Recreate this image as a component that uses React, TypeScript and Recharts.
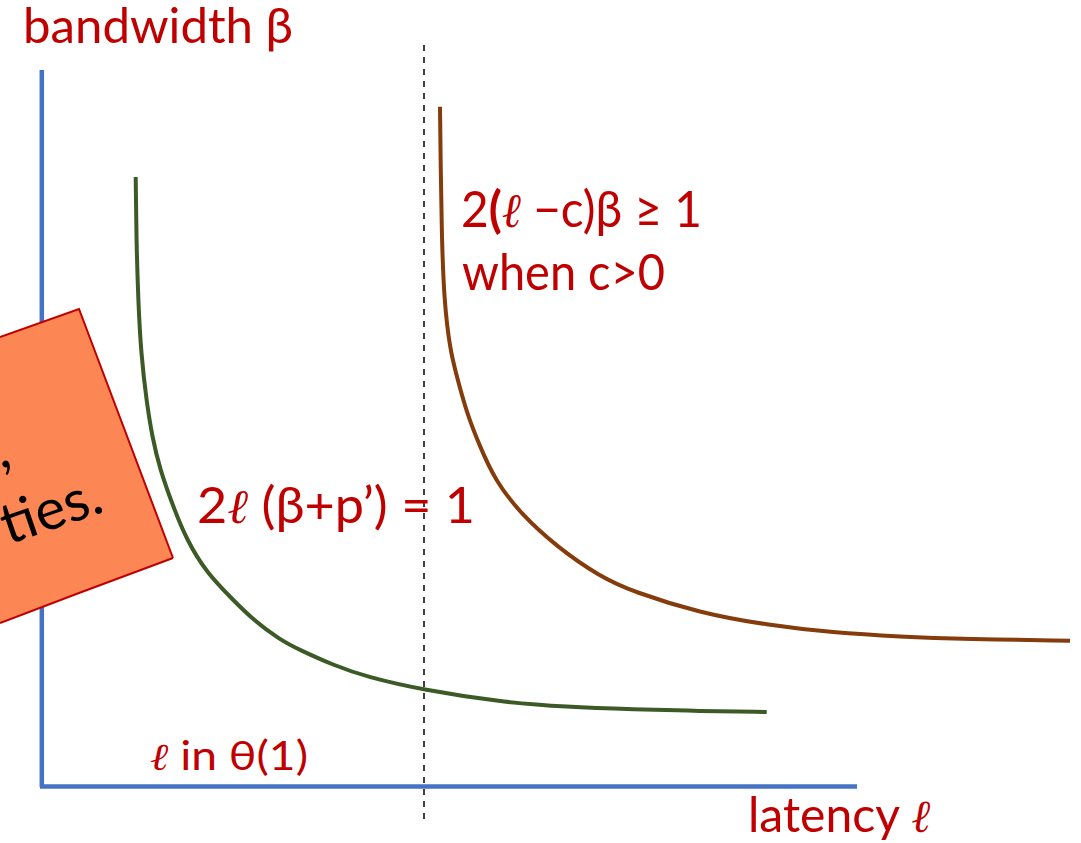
import React from 'react';
import { ComposedChart, Line, Area, XAxis, YAxis, ReferenceLine, ReferenceDot } from 'recharts';

// Curve 1: 2ℓ(β+p') = 1  (green)
const greenLatency = [0.947, 0.953, 0.973, 1.0, 1.057, 1.113, 1.185, 1.323, 1.457, 1.657, 1.923, 2.09, 2.39, 2.59, 2.92, 3.257, 3.823, 4.59, 5.257, 5.923, 6.59, 7.257];
const greenBandwidth = [6.08, 5.48, 4.82, 4.32, 3.82, 3.48, 3.17, 2.78, 2.45, 2.12, 1.85, 1.68, 1.45, 1.35, 1.2, 1.08, 0.95, 0.83, 0.78, 0.757, 0.74, 0.73];

// Curve 2: 2(ℓ−c)β ≥ 1 (brown)
const brownLatency = [3.99, 3.997, 4.007, 4.03, 4.09, 4.16, 4.257, 4.39, 4.54, 4.79, 5.157, 5.59, 5.92, 6.59, 7.257, 7.92, 8.59, 9.257, 10.29];
const brownBandwidth = [6.783, 6.183, 5.52, 4.85, 4.35, 4.08, 3.72, 3.383, 3.05, 2.72, 2.383, 2.083, 1.933, 1.72, 1.6, 1.523, 1.483, 1.46, 1.443];

// Overlaid note box (rotated rectangle): latency stops, lower / upper bandwidth edges
const noteLatency = [-0.41, 0.38, 1.32];
const noteLower = [1.62, 1.92, 2.27];
const noteUpper = [4.48, 4.76, 2.27];

// Axes and threshold
const axisLatencyMax = 8.16;
const axisBandwidthMax = 7.15;
const thresholdLatency = 3.83;

const labels = {
  yAxis: 'bandwidth β',
  xAxis: 'latency ',
  brown2: 'when c>0',
  theta: ' in θ(1)',
  note: 'ties.',
  noteComma: ',',
};

const greenData = greenLatency.map((l, i) => ({ l, b: greenBandwidth[i] }));
const brownData = brownLatency.map((l, i) => ({ l, b: brownBandwidth[i] }));
const noteData = noteLatency.map((l, i) => ({ l, r: [noteLower[i], noteUpper[i]] }));
const yAxisData = [{ l: 0.008, b: -0.02 }, { l: 0.008, b: axisBandwidthMax }];
const xAxisData = [{ l: -0.01, b: -0.015 }, { l: axisLatencyMax, b: -0.015 }];

const RED = '#C00000';
const BLUE = '#4472C4';
const FONT = 'Lato, "Open Sans", "DejaVu Sans", sans-serif';
const ELL = { fontFamily: '"DejaVu Serif", serif', fontStyle: 'italic' as const };

const textShape = (
  content: React.ReactNode,
  opts: { size: number; fill: string; width?: number; anchor?: string; rotate?: number }
) => (p: any) => (
  <text
    x={p.cx}
    y={p.cy}
    fill={opts.fill}
    fontSize={opts.size}
    fontFamily={FONT}
    textAnchor={opts.anchor || 'start'}
    textLength={opts.width}
    lengthAdjust={opts.width ? 'spacingAndGlyphs' : undefined}
    transform={opts.rotate ? `rotate(${opts.rotate} ${p.cx} ${p.cy})` : undefined}
  >
    {content}
  </text>
);

const ell = (size: number) => (
  <tspan style={ELL} fontSize={size}>ℓ</tspan>
);

export default function App() {
  return (
    <div style={{ position: 'absolute', left: 0, top: 0, background: '#fff' }}>
      <ComposedChart width={1081} height={843} margin={{ top: 0, right: 0, bottom: 0, left: 0 }}>
        <XAxis type="number" dataKey="l" domain={[-0.41, 10.4]} hide allowDataOverflow />
        <YAxis type="number" domain={[-0.58, 7.85]} hide allowDataOverflow />

        {/* axes (drawn as stroke-only areas so the note box can cover them) */}
        <Area data={yAxisData} dataKey="b" type="linear" stroke={BLUE} strokeWidth={4.5} fill="none" zIndex={50} dot={false} activeDot={false} isAnimationActive={false} />
        <Area data={xAxisData} dataKey="b" type="linear" stroke={BLUE} strokeWidth={4.5} fill="none" zIndex={50} dot={false} activeDot={false} isAnimationActive={false} />

        <Area
          data={noteData}
          dataKey="r"
          type="linear"
          fill="#FC8654"
          fillOpacity={1}
          stroke={RED}
          strokeWidth={2}
          zIndex={120}
          isAnimationActive={false}
          dot={false}
          activeDot={false}
        />

        <Line data={greenData} dataKey="b" type="basis" stroke="#3B5A25" strokeWidth={4} dot={false} activeDot={false} isAnimationActive={false} />
        <Line data={brownData} dataKey="b" type="basis" stroke="#843C0C" strokeWidth={4} dot={false} activeDot={false} isAnimationActive={false} />

        <ReferenceLine
          segment={[{ x: thresholdLatency, y: 7.4 }, { x: thresholdLatency, y: -0.35 }]}
          stroke="#000"
          strokeWidth={1.5}
          strokeDasharray="6 6"
          ifOverflow="visible"
        />

        <ReferenceDot x={-0.18} y={7.42} r={0} ifOverflow="visible" shape={textShape(labels.yAxis, { size: 49, fill: RED, width: 270 })} />
        <ReferenceDot
          x={4.2}
          y={5.58}
          r={0}
          ifOverflow="visible"
          shape={textShape(
            <>
              2<tspan fontWeight="bold">(</tspan>
              {ell(48)}
              {' −c)β ≥ 1'}
            </>,
            { size: 50, fill: RED, width: 241 }
          )}
        />
        <ReferenceDot x={4.21} y={4.95} r={0} ifOverflow="visible" shape={textShape(labels.brown2, { size: 50, fill: RED, width: 203 })} />
        <ReferenceDot
          x={1.56}
          y={2.62}
          r={0}
          ifOverflow="visible"
          shape={textShape(
            <>
              2{ell(48)}
              {' (β+p’) = 1'}
            </>,
            { size: 50, fill: RED, width: 278 }
          )}
        />
        <ReferenceDot
          x={1.09}
          y={0.15}
          r={0}
          ifOverflow="visible"
          shape={textShape(
            <>
              {ell(38)}
              {labels.theta}
            </>,
            { size: 40, fill: RED, width: 158 }
          )}
        />
        <ReferenceDot
          x={7.07}
          y={-0.47}
          r={0}
          ifOverflow="visible"
          shape={textShape(
            <>
              {labels.xAxis}
              {ell(46)}
            </>,
            { size: 49, fill: RED, width: 182 }
          )}
        />
        <ReferenceDot x={0.65} y={2.74} r={0} ifOverflow="visible" shape={textShape(labels.note, { size: 57, fill: '#000', anchor: 'end', rotate: -19 })} />
        <ReferenceDot x={-0.28} y={3.2} r={0} ifOverflow="visible" shape={textShape(labels.noteComma, { size: 57, fill: '#000', anchor: 'end', rotate: -19 })} />
      </ComposedChart>
    </div>
  );
}
